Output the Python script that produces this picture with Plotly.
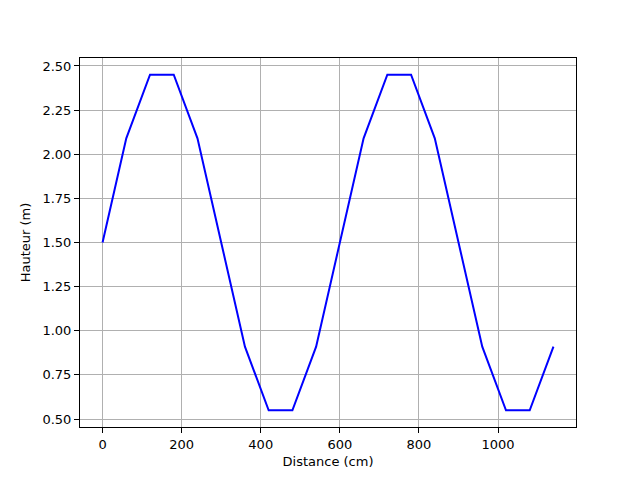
import plotly.graph_objects as go

distance = [0, 60, 120, 180, 240, 300, 360, 420, 480, 540, 600, 660, 720, 780, 840, 900, 960, 1020, 1080, 1140]
hauteur = [1.5, 2.09, 2.45, 2.45, 2.09, 1.5, 0.91, 0.55, 0.55, 0.91, 1.5, 2.09, 2.45, 2.45, 2.09, 1.5, 0.91, 0.55, 0.55, 0.91]
x_ticks = [0, 200, 400, 600, 800, 1000]
y_ticks = [0.5, 0.75, 1.0, 1.25, 1.5, 1.75, 2.0, 2.25, 2.5]

fig = go.Figure()
fig.add_trace(go.Scatter(x=distance, y=hauteur, mode="lines",
                         line=dict(color="#0000ff", width=2)))

font = dict(family="DejaVu Sans", size=13, color="black")
axis_common = dict(showline=True, linecolor="black", linewidth=1, mirror=True,
                   ticks="outside", ticklen=5, tickcolor="black", tickwidth=1,
                   showgrid=True, gridcolor="#b0b0b0", gridwidth=1, zeroline=False,
                   tickfont=font)

fig.update_layout(
    width=640, height=480,
    margin=dict(l=72, r=72, t=50, b=61),
    paper_bgcolor="white", plot_bgcolor="white",
    showlegend=False,
    font=font,
    xaxis=dict(range=[-57, 1197], tickvals=x_ticks, ticktext=[str(v) for v in x_ticks],
               title=dict(text="Distance (cm)", font=font, standoff=6), **axis_common),
    yaxis=dict(range=[0.455, 2.545], tickvals=y_ticks, ticktext=[f"{v:.2f}" for v in y_ticks],
               title=dict(text="Hauteur (m)", font=font, standoff=8), **axis_common),
)

fig.write_html("out.html")
